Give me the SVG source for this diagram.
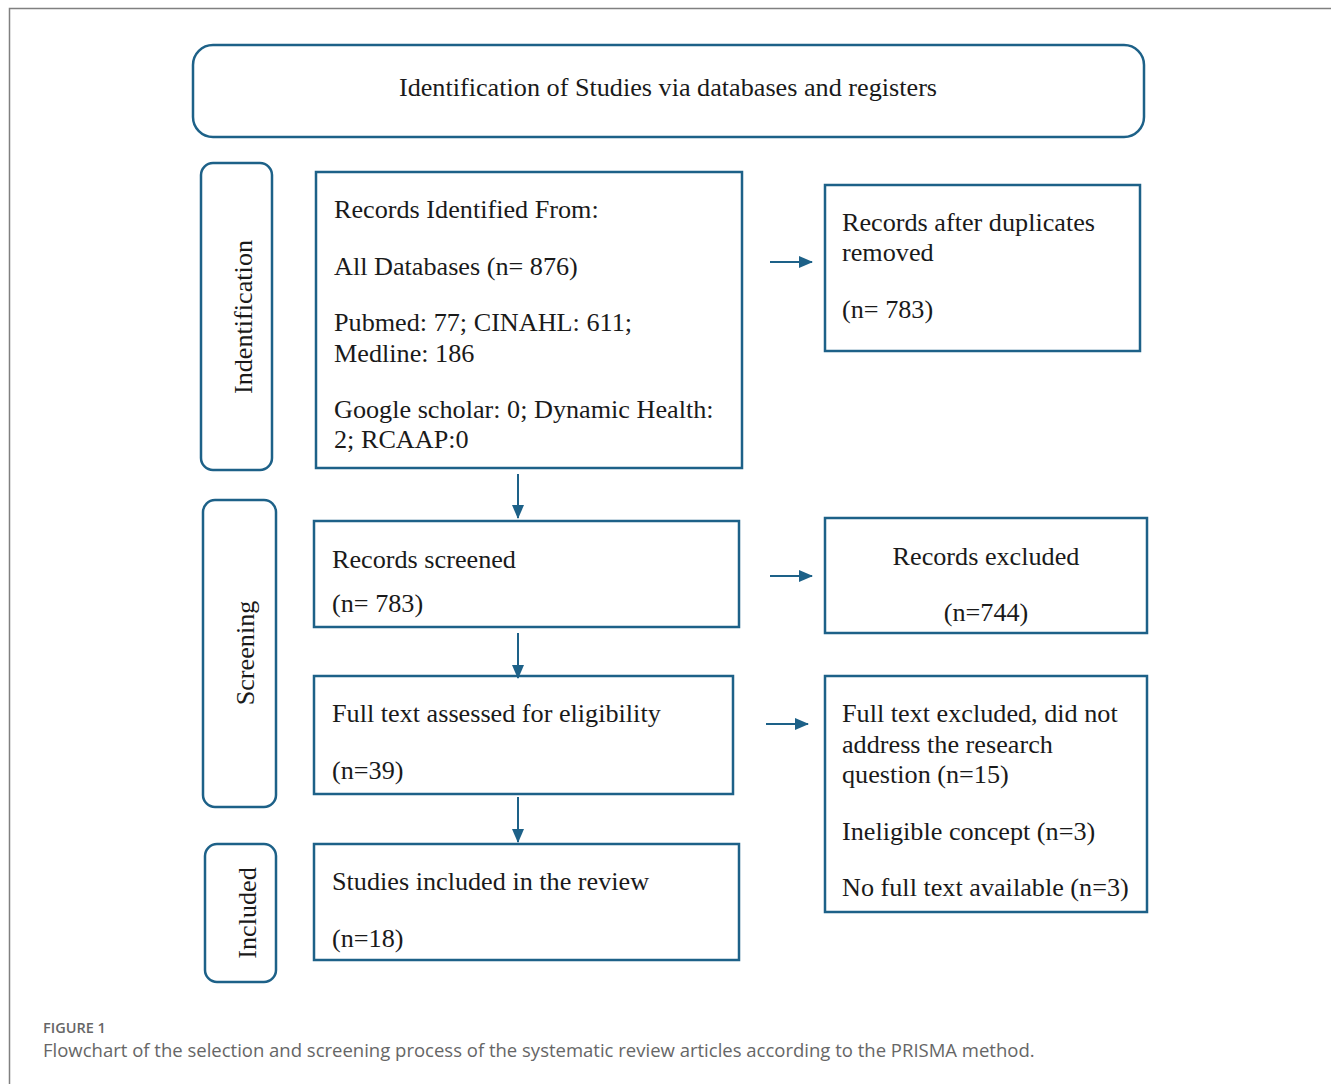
<svg xmlns="http://www.w3.org/2000/svg" width="1331" height="1084" viewBox="0 0 1331 1084">
<style>
.box{fill:#fff;stroke:#1d6188;stroke-width:2.5}
.t{font-family:"Liberation Serif","Times New Roman",serif;font-size:26.2px;fill:#1a1a1a}
.c{text-anchor:middle}
.conn{stroke:#1d6188;stroke-width:2;fill:none}
.cap1{font-family:"Open Sans",sans-serif;font-size:14.5px;font-weight:600;fill:#666}
.cap2{font-family:"Open Sans",sans-serif;font-size:18.5px;fill:#666}
</style>
<defs>
<marker id="ah" markerUnits="userSpaceOnUse" markerWidth="14" markerHeight="12" refX="13" refY="6" orient="auto">
<path d="M0,0 L14,6 L0,12 Z" fill="#1d6188"/>
</marker>
</defs>
<rect width="1331" height="1084" fill="#fff"/>
<path d="M9.5,1084 V8.5 H1331" fill="none" stroke="#808080" stroke-width="1.5"/>
<g id="header"><rect class="box" x="193" y="45" width="951" height="92" rx="20"/><text class="t c" x="668" y="96">Identification of Studies via databases and registers</text></g>
<g id="phase-identification"><rect class="box" x="201" y="163" width="71" height="307" rx="12"/><text class="t c" transform="translate(252,317) rotate(-90)">Indentification</text></g>
<g id="phase-screening"><rect class="box" x="203" y="500" width="73" height="307" rx="12"/><text class="t c" transform="translate(254,653) rotate(-90)">Screening</text></g>
<g id="phase-included"><rect class="box" x="205" y="844" width="71" height="138" rx="12"/><text class="t c" transform="translate(256,913) rotate(-90)">Included</text></g>
<g id="records-identified"><rect class="box" x="316" y="172" width="426" height="296"/>
<text class="t" x="334" y="218">Records Identified From:</text>
<text class="t" x="334" y="275">All Databases (n= 876)</text>
<text class="t" x="334" y="331">Pubmed: 77; CINAHL: 611;</text>
<text class="t" x="334" y="362">Medline: 186</text>
<text class="t" x="334" y="418">Google scholar: 0; Dynamic Health:</text>
<text class="t" x="334" y="448">2; RCAAP:0</text></g>
<g id="records-dedup"><rect class="box" x="825" y="185" width="315" height="166"/>
<text class="t" x="842" y="231">Records after duplicates</text>
<text class="t" x="842" y="261">removed</text>
<text class="t" x="842" y="318">(n= 783)</text></g>
<g id="records-screened"><rect class="box" x="314" y="521" width="425" height="106"/>
<text class="t" x="332" y="568">Records screened</text>
<text class="t" x="332" y="612">(n= 783)</text></g>
<g id="records-excluded"><rect class="box" x="825" y="518" width="322" height="115"/>
<text class="t c" x="986" y="565">Records excluded</text>
<text class="t c" x="986" y="621">(n=744)</text></g>
<g id="fulltext-assessed"><rect class="box" x="314" y="676" width="419" height="118"/>
<text class="t" x="332" y="722">Full text assessed for eligibility</text>
<text class="t" x="332" y="779">(n=39)</text></g>
<g id="fulltext-excluded"><rect class="box" x="825" y="676" width="322" height="236"/>
<text class="t" x="842" y="722">Full text excluded, did not</text>
<text class="t" x="842" y="753">address the research</text>
<text class="t" x="842" y="783">question (n=15)</text>
<text class="t" x="842" y="840">Ineligible concept (n=3)</text>
<text class="t" x="842" y="896">No full text available (n=3)</text></g>
<g id="studies-included"><rect class="box" x="314" y="844" width="425" height="116"/>
<text class="t" x="332" y="890">Studies included in the review</text>
<text class="t" x="332" y="947">(n=18)</text></g>
<g id="connectors">
<line class="conn" x1="770" y1="262" x2="812" y2="262" marker-end="url(#ah)"/>
<line class="conn" x1="518" y1="474" x2="518" y2="518" marker-end="url(#ah)"/>
<line class="conn" x1="770" y1="576" x2="812" y2="576" marker-end="url(#ah)"/>
<line class="conn" x1="518" y1="633" x2="518" y2="678" marker-end="url(#ah)"/>
<line class="conn" x1="766" y1="724" x2="808" y2="724" marker-end="url(#ah)"/>
<line class="conn" x1="518" y1="797" x2="518" y2="842" marker-end="url(#ah)"/>
</g>
<text class="cap1" x="43" y="1033">FIGURE 1</text>
<text class="cap2" x="43" y="1057">Flowchart of the selection and screening process of the systematic review articles according to the PRISMA method.</text>
</svg>
